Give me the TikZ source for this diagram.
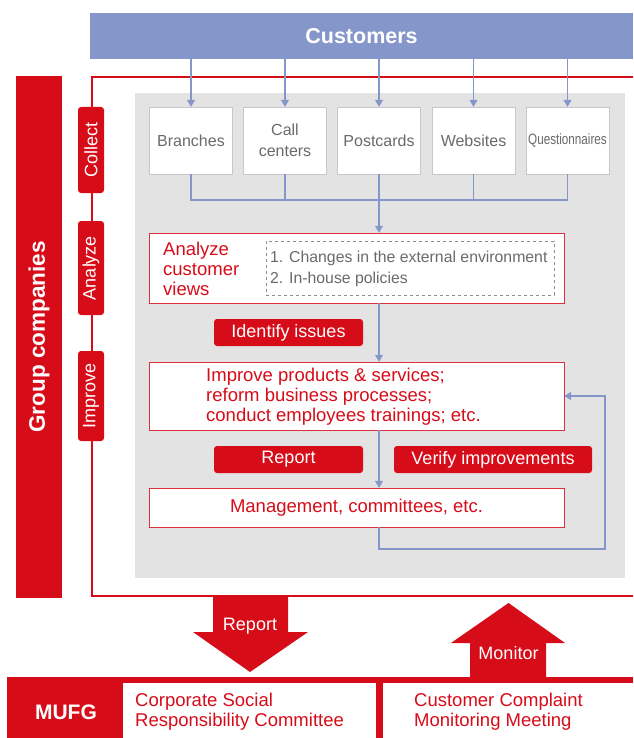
\documentclass[tikz,border=0pt]{standalone}
\usepackage{fontspec}
\setmainfont{Liberation Sans}
\usetikzlibrary{arrows.meta, positioning, calc}
\definecolor{mured}{HTML}{D70C19}
\definecolor{mublue}{HTML}{8596CA}
\definecolor{mupanel}{HTML}{E3E3E3}
\definecolor{mutext}{HTML}{6A6A6A}
\newcommand{\fs}[2]{\fontsize{#1}{#2}\selectfont}

\begin{document}
\begin{tikzpicture}[x=1pt, y=-1pt,
  source/.style={rectangle, draw=black!22, fill=white, minimum width=83pt, minimum height=67pt, inner sep=0pt, font=\fs{16}{21}, text=mutext, align=center},
  stagebox/.style={rectangle, draw=mured!85, fill=white, minimum width=415pt, minimum height=#1, inner sep=0pt},
  tag/.style={rectangle, rounded corners=3pt, fill=mured, text=white, minimum height=27pt, inner sep=0pt, font=\fs{18}{20}},
  pill/.style={rectangle, rounded corners=3pt, fill=mured, text=white, rotate=90, minimum width=#1, minimum height=26pt, inner sep=0pt, font=\fs{18}{20}},
  flow/.style={-{Triangle[width=8pt, length=7pt]}, mublue, line width=1.1pt},
  flowline/.style={mublue, line width=1.1pt},
  redtext/.style={text=mured, align=left, inner sep=0pt, font=\fs{18.5}{20}},
]
  \useasboundingbox (0,0) rectangle (633,738);

  % panels
  \fill[mupanel] (135,93) rectangle (625,578);
  \node[fill=mublue, minimum width=543pt, minimum height=46pt, inner sep=0pt, text=white, font=\fs{21.5}{24}\bfseries] (cust) at (361.5,36) {Customers};
  \draw[mured, line width=2pt] (633,77) -- (92,77) -- (92,596) -- (633,596);
  \node[fill=mured, rotate=90, minimum width=522pt, minimum height=46pt, inner sep=0pt, text=white, font=\fs{22.5}{26}\bfseries] (group) at (39,337) {Group companies};

  % stages
  \node[pill=86pt] (collect) at (91,150) {Collect};
  \node[pill=94pt] (analyze) at (91,268) {Analyze};
  \node[pill=90pt] (improve) at (91,396) {Improve};

  % sources
  \node[source] (branch) at (191,140.5) {Branches};
  \node[source] (call) at (285,140.5) {Call\\centers};
  \node[source] (post) at (379,140.5) {Postcards};
  \node[source] (web) at (473.5,140.5) {Websites};
  \node[source] (quest) at (567.5,140.5) {\scalebox{0.78}[1]{\fs{15}{17}Questionnaires}};

  \foreach \s in {branch, call, post, web, quest}
    \draw[flow] (\s.north |- cust.south) -- (\s.north);

  \coordinate (merge) at (379,200);
  \draw[flowline] (branch.south) |- (merge) -| (quest.south);
  \draw[flowline] (call.south) -- (call.south |- merge);
  \draw[flowline] (web.south) -- (web.south |- merge);

  % analyze
  \node[stagebox=70pt] (ana) at (356.5,268) {};
  \node[redtext, anchor=west] (analbl) at (163,269) {Analyze\\customer\\views};
  \node[draw=black!45, dashed, minimum width=288pt, minimum height=54pt, inner sep=0pt] (env) at (410,268) {};
  \node[anchor=west, inner sep=0pt, text=mutext, align=left, font=\fs{15.8}{21}] (envtxt) at (270,268.5) {1. Changes in the external environment\\2. In-house policies};
  \draw[flow] (post.south) -- (post.south |- ana.north);

  \node[tag, minimum width=149pt] (issues) at (288.5,332.5) {Identify issues};

  % improve
  \node[stagebox=68pt] (impr) at (356.5,396) {};
  \node[redtext, anchor=west] (imprtxt) at (206,397) {Improve products \& services;\\reform business processes;\\conduct employees trainings; etc.};
  \draw[flow] (post.south |- ana.south) -- (post.south |- impr.north);

  \node[tag, minimum width=149pt] (report) at (288.5,459.5) {Report};
  \node[tag, minimum width=198pt] (verify) at (493,459.5) {Verify improvements};

  % management
  \node[stagebox=39pt, text=mured, font=\fs{18.5}{20}] (mgmt) at (356.5,507.5) {Management, committees, etc.};
  \draw[flow] (post.south |- impr.south) -- (post.south |- mgmt.north);

  \coordinate (loop) at (605,549);
  \draw[flow] (post.south |- mgmt.south) |- (loop) |- (impr.east);

  % MUFG
  \fill[mured] (7,677) rectangle (633,738);
  \node[text=white, font=\fs{21}{24}\bfseries] (mufg) at (66,712) {MUFG};
  \node[fill=white, minimum width=253pt, minimum height=55pt, inner sep=0pt] (csr) at (249.5,710.5) {};
  \node[fill=white, minimum width=250pt, minimum height=55pt, inner sep=0pt] (ccm) at (508,710.5) {};
  \node[redtext, anchor=west] (csrtxt) at (135,712) {Corporate Social\\Responsibility Committee};
  \node[redtext, anchor=west] (ccmtxt) at (414,712) {Customer Complaint\\Monitoring Meeting};

  % report / monitor arrows
  \fill[mured] (213,597) -- (288,597) -- (288,632) -- (308,632) -- (250,672) -- (193,632) -- (213,632) -- cycle;
  \node[text=white, font=\fs{18}{20}] (replbl) at (250,626) {Report};
  \fill[mured] (470,677) -- (546,677) -- (546,643) -- (565,643) -- (508.5,603) -- (451,643) -- (470,643) -- cycle;
  \node[text=white, font=\fs{18}{20}] (monlbl) at (508.5,653) {Monitor};
\end{tikzpicture}
\end{document}
